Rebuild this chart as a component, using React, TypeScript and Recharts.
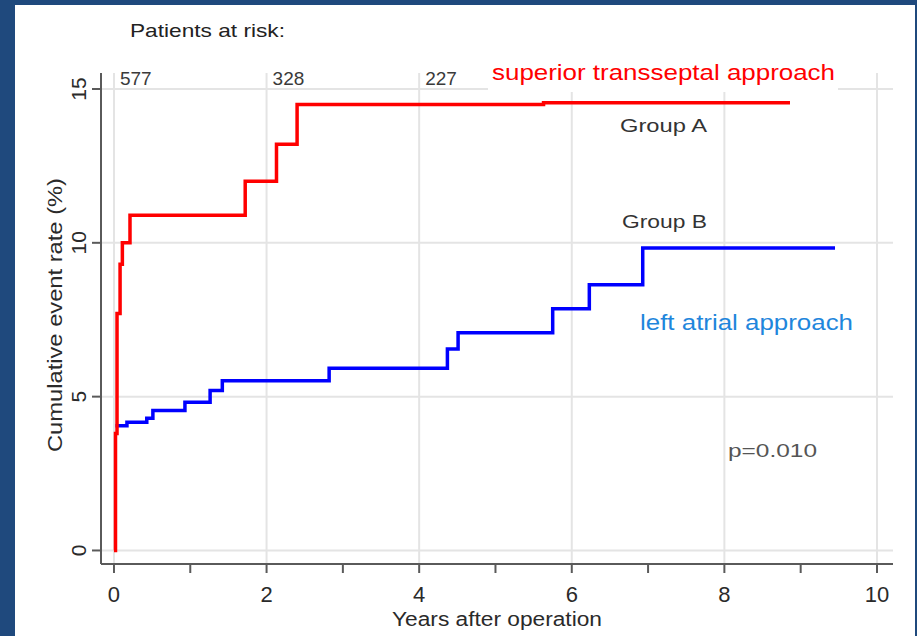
import React from 'react';
import { LineChart, Line, XAxis, YAxis, ReferenceLine } from 'recharts';

// ---- data ----
const groupATimes = [0, 0.02, 0.04, 0.08, 0.11, 0.21, 1.72, 2.13, 2.4, 5.63, 8.86];
const groupAValues = [0, 3.8, 7.7, 9.3, 10.0, 10.9, 12.0, 13.2, 14.5, 14.55, 14.55];
const groupBTimes = [0.02, 0.17, 0.43, 0.51, 0.93, 1.26, 1.42, 2.82, 4.37, 4.51, 5.75, 6.23, 6.93, 9.45];
const groupBValues = [4.05, 4.17, 4.3, 4.55, 4.82, 5.2, 5.52, 5.92, 6.55, 7.08, 7.86, 8.64, 9.83, 9.83];
const xTicks = [0, 1, 2, 3, 4, 5, 6, 7, 8, 9, 10];
const xLabelTicks = [0, 2, 4, 6, 8, 10];
const xGrid = [0, 2, 4, 6, 8, 10];
const yTicks = [0, 5, 10, 15];
const atRiskYears = [0, 2, 4];
const atRiskCounts = ['577', '328', '227'];

const dataA = groupATimes.map((t, i) => ({ t, v: groupAValues[i] }));
const dataB = groupBTimes.map((t, i) => ({ t, v: groupBValues[i] }));

const FONT = "'Liberation Sans', Arial, sans-serif";
const AXIS = '#5a5a5a';
const GRID = '#e4e4e4';

const XTick = (props: any) => {
  const { x, y, payload } = props;
  if (!xLabelTicks.includes(payload.value)) return null;
  return (
    <text x={x} y={y + 29} textAnchor="middle" fontFamily={FONT} fontSize={22} fill="#2a2a2a">
      {payload.value}
    </text>
  );
};

const YTick = (props: any) => {
  const { x, y, payload } = props;
  return (
    <text
      transform={`translate(${x - 6},${y}) rotate(-90)`}
      textAnchor="middle"
      fontFamily={FONT}
      fontSize={21}
      fill="#2a2a2a"
    >
      {payload.value}
    </text>
  );
};

export default function App() {
  return (
    <div style={{ position: 'absolute', left: 0, top: 0, width: 917, height: 636, background: '#1f497d', overflow: 'hidden' }}>
      <div style={{ position: 'absolute', left: 15, top: 5, width: 900, height: 631, background: '#ffffff' }} />
      <div style={{ position: 'absolute', left: 0, top: 0 }}>
        <LineChart width={917} height={636} margin={{ top: 73, right: 24, bottom: 32, left: 41 }}>
          <XAxis
            type="number"
            dataKey="t"
            domain={[-0.17, 10.21]}
            ticks={xTicks}
            allowDataOverflow
            interval={0}
            height={40}
            tickSize={9}
            tickMargin={0}
            axisLine={{ stroke: AXIS, strokeWidth: 2 }}
            tickLine={{ stroke: AXIS, strokeWidth: 2 }}
            tick={<XTick />}
          />
          <YAxis
            type="number"
            domain={[-0.44, 15.52]}
            ticks={yTicks}
            allowDataOverflow
            interval={0}
            width={60}
            tickSize={9}
            tickMargin={0}
            axisLine={{ stroke: AXIS, strokeWidth: 2 }}
            tickLine={{ stroke: AXIS, strokeWidth: 2 }}
            tick={<YTick />}
          />
          {xGrid.map((v) => (
            <ReferenceLine key={'gx' + v} x={v} stroke={GRID} strokeWidth={2} />
          ))}
          {yTicks.map((v) => (
            <ReferenceLine key={'gy' + v} y={v} stroke={GRID} strokeWidth={2} />
          ))}
          {atRiskYears.map((yr, i) => (
            <ReferenceLine
              key={'ar' + yr}
              x={yr}
              stroke="none"
              label={(p: any) => (
                <text x={p.viewBox.x + 6} y={p.viewBox.y + 12} fontFamily={FONT} fontSize={19} fill="#3a3a3a">
                  {atRiskCounts[i]}
                </text>
              )}
            />
          ))}
          <Line
            data={dataB}
            dataKey="v"
            type="stepAfter"
            stroke="#0000ff"
            strokeWidth={3.5}
            dot={false}
            isAnimationActive={false}
          />
          <Line
            data={dataA}
            dataKey="v"
            type="stepAfter"
            stroke="#ff0000"
            strokeWidth={3.5}
            dot={false}
            isAnimationActive={false}
          />
        </LineChart>
      </div>
      <svg width={917} height={636} style={{ position: 'absolute', left: 0, top: 0, pointerEvents: 'none' }}>
        <rect x={488} y={55} width={350} height={37} fill="#ffffff" />
        <text x={130} y={37} fontFamily={FONT} fontSize={19} fill="#222" textLength={155} lengthAdjust="spacingAndGlyphs">
          Patients at risk:
        </text>
        <text x={492} y={80} fontFamily={FONT} fontSize={22} fill="#ff0000" textLength={343} lengthAdjust="spacingAndGlyphs">
          superior transseptal approach
        </text>
        <text x={620} y={132} fontFamily={FONT} fontSize={18} fill="#333" textLength={87} lengthAdjust="spacingAndGlyphs">
          Group A
        </text>
        <text x={622} y={228} fontFamily={FONT} fontSize={18} fill="#333" textLength={85} lengthAdjust="spacingAndGlyphs">
          Group B
        </text>
        <text x={640} y={330} fontFamily={FONT} fontSize={22} fill="#1f86dc" textLength={213} lengthAdjust="spacingAndGlyphs">
          left atrial approach
        </text>
        <text x={728} y={457} fontFamily={FONT} fontSize={19} fill="#555" textLength={89} lengthAdjust="spacingAndGlyphs">
          p=0.010
        </text>
        <text x={497} y={626} textAnchor="middle" fontFamily={FONT} fontSize={20} fill="#2a2a2a" textLength={210} lengthAdjust="spacingAndGlyphs">
          Years after operation
        </text>
        <text
          transform="translate(62,315) rotate(-90)"
          textAnchor="middle"
          fontFamily={FONT}
          fontSize={20}
          fill="#2a2a2a"
          textLength={274}
          lengthAdjust="spacingAndGlyphs"
        >
          Cumulative event rate (%)
        </text>
      </svg>
    </div>
  );
}
